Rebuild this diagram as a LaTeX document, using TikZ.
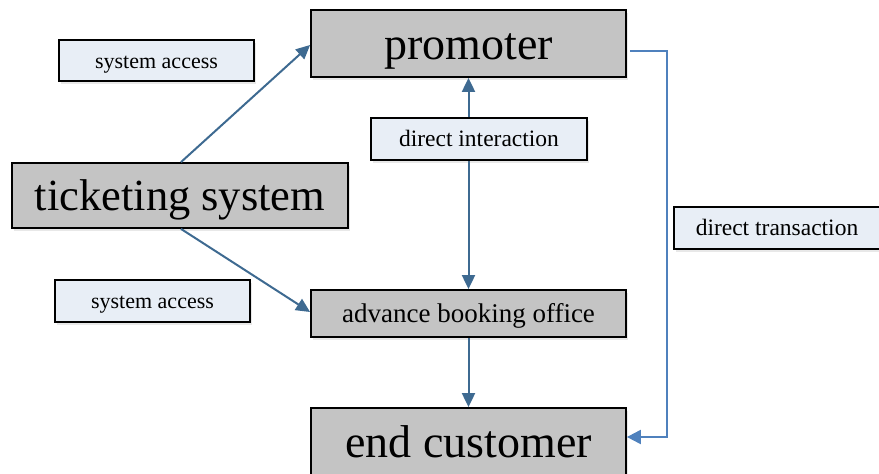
\documentclass[tikz,border=0pt]{standalone}
\usepackage{fontspec}
\setmainfont{Liberation Serif}
\usetikzlibrary{arrows.meta,shadows}
\definecolor{boxgray}{HTML}{C4C4C4}
\definecolor{notefill}{HTML}{E8EEF6}
\definecolor{flowblue}{HTML}{3E6A91}
\definecolor{linkblue}{HTML}{4F81BD}
\tikzset{
  x=1pt, y=-1pt,
  entity/.style={draw=black, line width=1.8pt, fill=boxgray, inner sep=0pt, text depth=0pt,
    drop shadow={shadow xshift=2pt, shadow yshift=-3pt, opacity=0.18}},
  note/.style={draw=black, line width=1.6pt, fill=notefill, inner sep=0pt,
    text height=15pt, text depth=0pt,
    drop shadow={shadow xshift=2pt, shadow yshift=-3pt, opacity=0.18},
    font=\fontsize{22}{26}\selectfont},
  big/.style={font=\fontsize{46}{52}\selectfont, text height=31pt},
  tipshape/.tip={Triangle[length=14pt, width=13pt]},
  flow/.style={draw=flowblue, line width=2pt, -tipshape},
  link/.style={draw=linkblue, line width=2.2pt,
    -{Triangle[length=14pt, width=14pt]}},
}
\begin{document}
\begin{tikzpicture}
\useasboundingbox (0,0) rectangle (879,474);
\begin{scope}
\clip (0,0) rectangle (879,474);

% main parties
\node[entity, big, minimum width=315pt, minimum height=67pt] (prom) at (468.5,43.5) {promoter};
\node[entity, font=\fontsize{44.5}{50}\selectfont, text height=29pt, minimum width=336pt, minimum height=65pt] (tick) at (180,195.5) {ticketing system};
\node[entity, font=\fontsize{27}{32}\selectfont, text height=17pt, minimum width=315pt, minimum height=47pt] (abo) at (468.5,313.5) {advance booking office};
\node[entity, big, minimum width=315pt, minimum height=67pt] (cust) at (468.5,441.5) {end customer};

% connectors
\draw[flow] (tick.north) ++(1,0) coordinate (t1) -- (prom.west |- 0,45);
\draw[flow] (tick.south) ++(1,0) coordinate (t2) -- (abo.west |- 0,312);
\draw[flow, tipshape-tipshape] (prom.south) -- (abo.north);
\draw[flow] (abo.south) -- (cust.north);
\coordinate (c1) at (667,51);
\coordinate (c2) at (667,437);
\draw[link] (prom.east |- 0,51) ++(3,0) -- (c1) -- (c2) -- (cust.east |- c2);

% labels
\node[note, minimum width=195pt, minimum height=41pt] (sa1) at (156.5,60.5) {system access};
\node[note, font=\fontsize{23.5}{28}\selectfont, minimum width=216pt, minimum height=42pt] (di) at (479,139) {direct interaction};
\node[note, font=\fontsize{23.5}{28}\selectfont, minimum width=206pt, minimum height=42pt] (dt) at (777,228) {direct transaction};
\node[note, minimum width=195pt, minimum height=42pt] (sa2) at (152.5,301) {system access};
\end{scope}
\end{tikzpicture}
\end{document}
